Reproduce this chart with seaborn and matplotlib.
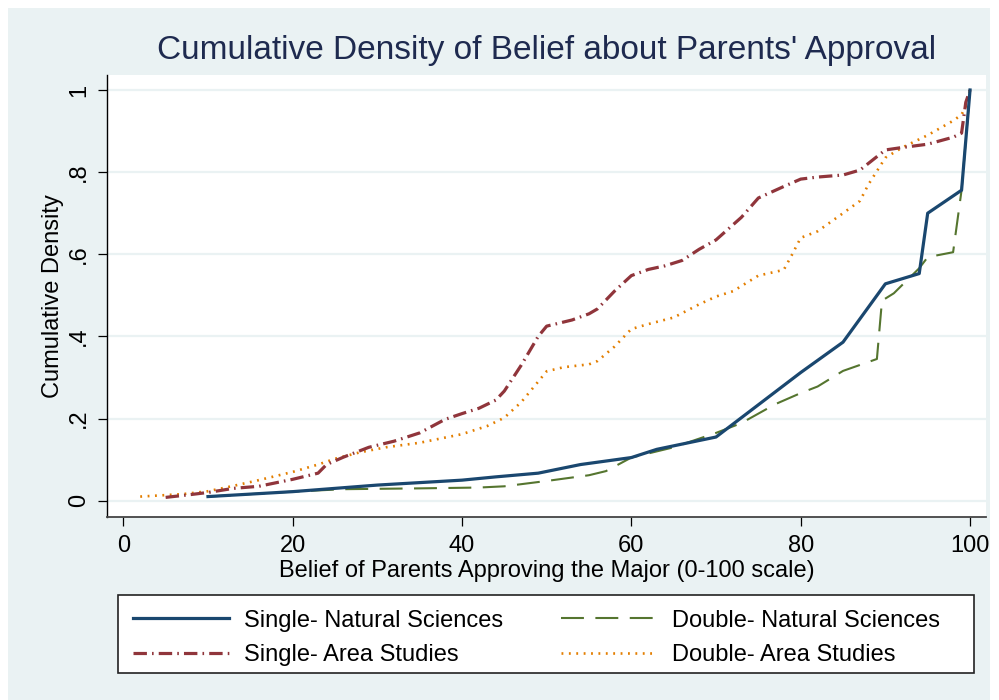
import matplotlib
matplotlib.use("Agg")
import matplotlib.pyplot as plt
from matplotlib.patches import Rectangle
from matplotlib.lines import Line2D
import seaborn as sns
import pandas as pd

# Cumulative share of respondents at or below each belief value
single_ns_x = [10, 20, 30, 40, 44, 49, 54, 60, 63, 70, 80, 85, 90, 94, 95, 99, 100]
single_ns_y = [0.010, 0.022, 0.038, 0.050, 0.058, 0.067, 0.088, 0.105, 0.125, 0.155, 0.312, 0.386, 0.528, 0.553, 0.700, 0.756, 1.000]

double_ns_x = [10, 20, 26, 35, 42, 45, 50, 55, 57, 60, 65, 70, 73, 77, 80, 82, 85, 89, 89.6, 91, 94, 95, 98, 99, 100]
double_ns_y = [0.010, 0.022, 0.028, 0.030, 0.032, 0.035, 0.048, 0.062, 0.072, 0.105, 0.130, 0.165, 0.189, 0.235, 0.262, 0.278, 0.316, 0.345, 0.487, 0.505, 0.566, 0.593, 0.605, 0.756, 1.000]

single_as_x = [5, 8, 10, 13, 16, 20, 23, 24, 26, 29, 32, 35, 38, 40, 42, 44, 45, 47, 49, 50, 53, 55, 56, 58, 60,
               62, 64, 66, 68, 70, 73, 75, 78, 80, 82, 85, 87, 90, 92, 95, 98, 99, 99.5, 100]
single_as_y = [0.008, 0.015, 0.020, 0.030, 0.035, 0.052, 0.067, 0.088, 0.106, 0.130, 0.145, 0.165, 0.198, 0.212,
               0.225, 0.245, 0.267, 0.330, 0.400, 0.425, 0.440, 0.455, 0.467, 0.510, 0.548, 0.563, 0.572, 0.585,
               0.612, 0.635, 0.690, 0.737, 0.765, 0.783, 0.788, 0.793, 0.805, 0.854, 0.860, 0.868, 0.885, 0.895,
               0.970, 1.000]

double_as_x = [2, 7, 10, 13, 16, 20, 23, 25, 28, 31, 35, 40, 43, 45, 47, 50, 52, 55, 56, 58, 60, 62, 65, 68, 70,
               72, 75, 78, 79, 80, 82, 85, 87, 88, 90, 92, 95, 98, 99, 99.5, 100]
double_as_y = [0.010, 0.016, 0.023, 0.036, 0.050, 0.070, 0.088, 0.102, 0.118, 0.130, 0.141, 0.162, 0.182, 0.202,
               0.240, 0.315, 0.325, 0.332, 0.340, 0.375, 0.418, 0.430, 0.446, 0.478, 0.497, 0.510, 0.548, 0.562,
               0.600, 0.640, 0.656, 0.700, 0.730, 0.770, 0.835, 0.860, 0.890, 0.925, 0.940, 0.960, 1.000]

series_labels = ["Single- Natural Sciences", "Double- Natural Sciences",
                 "Single- Area Studies", "Double- Area Studies"]

x_ticks = [0, 20, 40, 60, 80, 100]
y_ticks = [0, 0.2, 0.4, 0.6, 0.8, 1.0]
y_tick_labels = ["0", ".2", ".4", ".6", ".8", "1"]

BG = "#eaf2f3"
colors = ["#1a476f", "#55752f", "#90353b", "#e37e00"]
widths = [2.3, 1.5, 2.3, 1.9]
dash_patterns = [None, (11, 5.5), (4.2, 1.6, 0.5, 1.6), (0.7, 2.1)]

plt.rcParams["font.family"] = ["Liberation Sans", "DejaVu Sans"]

fig = plt.figure(figsize=(9.99, 7), dpi=100, facecolor="white")
fig.patches.append(Rectangle((8 / 999, 0), (990 - 8) / 999, 692 / 700,
                             transform=fig.transFigure, facecolor=BG,
                             edgecolor="none", zorder=-10))
# legend box
fig.patches.append(Rectangle((118 / 999, 1 - 673 / 700), (974 - 118) / 999, (673 - 595) / 700,
                             transform=fig.transFigure, facecolor="white",
                             edgecolor="#222222", linewidth=1.2, zorder=-5))

ax = fig.add_axes([107.3 / 999, 1 - 516.7 / 700, (985.7 - 107.3) / 999, (516.7 - 75) / 700])
ax.set_zorder(2)
ax.set_facecolor("white")

frames = []
for lab, xs, ys in zip(series_labels,
                       [single_ns_x, double_ns_x, single_as_x, double_as_x],
                       [single_ns_y, double_ns_y, single_as_y, double_as_y]):
    frames.append(pd.DataFrame({"belief": xs, "cdf": ys, "group": lab}))
df = pd.concat(frames, ignore_index=True)

# draw the area-studies curves first so the natural-science lines sit on top
draw_order = [3, 2, 1, 0]
for i in draw_order:
    lab = series_labels[i]
    sub = df[df["group"] == lab]
    sns.lineplot(data=sub, x="belief", y="cdf", ax=ax, color=colors[i],
                 linewidth=widths[i], estimator=None, sort=False, legend=False)
    line = ax.get_lines()[-1]
    if dash_patterns[i] is not None:
        line.set_dashes(dash_patterns[i])
    line.set_zorder(3 + (3 - i))

ax.set_xlim(-1.89, 101.85)
ax.set_ylim(-0.039, 1.0365)
ax.set_xticks(x_ticks)
ax.set_yticks(y_ticks)
ax.set_yticklabels(y_tick_labels)
ax.grid(axis="y", color=BG, linewidth=1.6)
ax.grid(axis="x", visible=False)
ax.set_axisbelow(True)

for s in ["top", "right"]:
    ax.spines[s].set_visible(False)
ax.spines["left"].set_color("black")
ax.spines["bottom"].set_color("#444444")
ax.spines["left"].set_linewidth(1.0)
ax.spines["bottom"].set_linewidth(1.3)

ax.tick_params(axis="both", direction="out", length=6.5, width=0.9, colors="black",
               labelsize=17, pad=7)
ax.tick_params(axis="y", labelrotation=90, pad=6)
for t in ax.get_yticklabels():
    t.set_verticalalignment("center")

ax.set_xlabel("Belief of Parents Approving the Major (0-100 scale)", fontsize=17, labelpad=2)
ax.set_ylabel("Cumulative Density", fontsize=17, labelpad=2.5)

fig.text(0.5 * (107.3 + 985.7) / 999, 1 - 50 / 700,
         "Cumulative Density of Belief about Parents' Approval",
         ha="center", va="center", fontsize=24, color="#1e2a4f")

# legend: first column single majors, second column double majors
leg_order = [0, 2, 1, 3]
handles = [Line2D([0], [0], color=colors[i], linewidth=widths[i],
                  **({} if dash_patterns[i] is None else {"dashes": dash_patterns[i]}))
           for i in leg_order]
leg = fig.legend(handles, [series_labels[i] for i in leg_order], loc="upper left",
                 bbox_to_anchor=(118 / 999, 1 - 595 / 700),
                 ncol=2, fontsize=17, handlelength=4.1, handletextpad=0.6,
                 labelspacing=0.52, borderpad=0.62, borderaxespad=0, columnspacing=2.45,
                 frameon=False)

fig.savefig("out.png", dpi=100, facecolor=fig.get_facecolor())
